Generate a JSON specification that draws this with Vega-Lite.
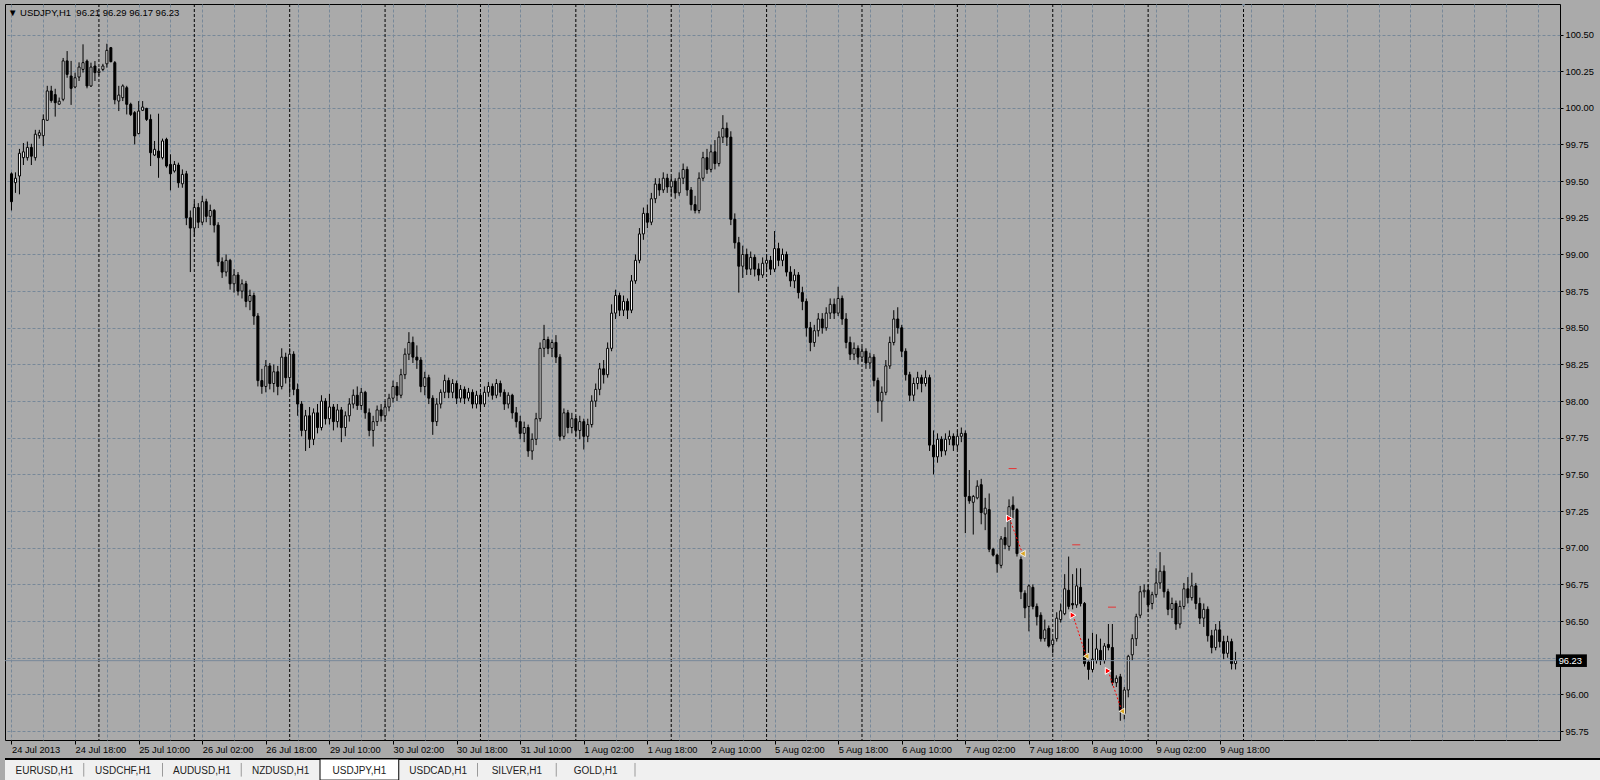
{
  "$schema": "https://vega.github.io/schema/vega-lite/v6.json",
  "background": "#aaaaaa",
  "padding": {"left": 4, "top": 3, "right": 0, "bottom": 0},
  "autosize": {"type": "pad"},
  "spacing": 19,
  "bounds": "flush",
  "config": {
    "font": "Liberation Sans",
    "view": {"stroke": null},
    "axis": {
      "labelFont": "Liberation Sans",
      "labelFontSize": 9.3,
      "labelColor": "#000000",
      "tickColor": "#000000",
      "tickWidth": 1,
      "domain": false,
      "grid": true,
      "gridColor": "#778899",
      "gridDash": [3, 2],
      "gridWidth": 1,
      "gridOpacity": 1,
      "title": null,
      "tickCount": 200,
      "labelOverlap": false
    }
  },
  "datasets": {
    "bars": [
      {"i": 0, "o": 99.55, "h": 99.56, "l": 99.30, "c": 99.36},
      {"i": 1, "o": 99.49, "h": 99.56, "l": 99.42, "c": 99.52},
      {"i": 2, "o": 99.535, "h": 99.72, "l": 99.41, "c": 99.69},
      {"i": 3, "o": 99.66, "h": 99.76, "l": 99.61, "c": 99.70},
      {"i": 4, "o": 99.66, "h": 99.77, "l": 99.64, "c": 99.73},
      {"i": 5, "o": 99.73, "h": 99.755, "l": 99.61, "c": 99.67},
      {"i": 6, "o": 99.66, "h": 99.85, "l": 99.64, "c": 99.82},
      {"i": 7, "o": 99.81, "h": 99.85, "l": 99.79, "c": 99.83},
      {"i": 8, "o": 99.81, "h": 99.955, "l": 99.74, "c": 99.92},
      {"i": 9, "o": 99.915, "h": 100.15, "l": 99.91, "c": 100.115},
      {"i": 10, "o": 100.115, "h": 100.15, "l": 100.035, "c": 100.05},
      {"i": 11, "o": 100.09, "h": 100.13, "l": 99.94, "c": 100.035},
      {"i": 12, "o": 100.025, "h": 100.07, "l": 100.02, "c": 100.045},
      {"i": 13, "o": 100.058, "h": 100.34, "l": 100.045, "c": 100.32},
      {"i": 14, "o": 100.32, "h": 100.387, "l": 100.205, "c": 100.228},
      {"i": 15, "o": 100.217, "h": 100.32, "l": 100.02, "c": 100.133},
      {"i": 16, "o": 100.142, "h": 100.24, "l": 100.133, "c": 100.205},
      {"i": 17, "o": 100.21, "h": 100.31, "l": 100.183, "c": 100.278},
      {"i": 18, "o": 100.262, "h": 100.433, "l": 100.24, "c": 100.308},
      {"i": 19, "o": 100.319, "h": 100.33, "l": 100.133, "c": 100.149},
      {"i": 20, "o": 100.149, "h": 100.308, "l": 100.142, "c": 100.278},
      {"i": 21, "o": 100.285, "h": 100.319, "l": 100.183, "c": 100.24},
      {"i": 22, "o": 100.24, "h": 100.27, "l": 100.22, "c": 100.25},
      {"i": 23, "o": 100.262, "h": 100.30, "l": 100.25, "c": 100.285},
      {"i": 24, "o": 100.30, "h": 100.437, "l": 100.274, "c": 100.392},
      {"i": 25, "o": 100.41, "h": 100.415, "l": 100.31, "c": 100.315},
      {"i": 26, "o": 100.308, "h": 100.319, "l": 100.024, "c": 100.055},
      {"i": 27, "o": 100.046, "h": 100.15, "l": 99.978, "c": 100.087},
      {"i": 28, "o": 100.069, "h": 100.16, "l": 100.046, "c": 100.149},
      {"i": 29, "o": 100.137, "h": 100.15, "l": 99.955, "c": 100.024},
      {"i": 30, "o": 100.024, "h": 100.035, "l": 99.944, "c": 99.955},
      {"i": 31, "o": 99.967, "h": 99.978, "l": 99.751, "c": 99.808},
      {"i": 32, "o": 99.824, "h": 100.046, "l": 99.82, "c": 99.978},
      {"i": 33, "o": 99.983, "h": 100.046, "l": 99.978, "c": 100.005},
      {"i": 34, "o": 99.996, "h": 100.0, "l": 99.91, "c": 99.921},
      {"i": 35, "o": 99.921, "h": 99.955, "l": 99.603, "c": 99.694},
      {"i": 36, "o": 99.678, "h": 99.774, "l": 99.671, "c": 99.717},
      {"i": 37, "o": 99.705, "h": 99.96, "l": 99.523, "c": 99.66},
      {"i": 38, "o": 99.66, "h": 99.79, "l": 99.648, "c": 99.774},
      {"i": 39, "o": 99.785, "h": 99.796, "l": 99.592, "c": 99.603},
      {"i": 40, "o": 99.614, "h": 99.683, "l": 99.437, "c": 99.55},
      {"i": 41, "o": 99.569, "h": 99.637, "l": 99.558, "c": 99.614},
      {"i": 42, "o": 99.61, "h": 99.626, "l": 99.455, "c": 99.489},
      {"i": 43, "o": 99.482, "h": 99.58, "l": 99.455, "c": 99.546},
      {"i": 44, "o": 99.55, "h": 99.57, "l": 99.20, "c": 99.25},
      {"i": 45, "o": 99.25, "h": 99.30, "l": 98.88, "c": 99.18},
      {"i": 46, "o": 99.18, "h": 99.36, "l": 99.12, "c": 99.32},
      {"i": 47, "o": 99.32, "h": 99.35, "l": 99.18, "c": 99.22},
      {"i": 48, "o": 99.22, "h": 99.40, "l": 99.20, "c": 99.36},
      {"i": 49, "o": 99.36, "h": 99.38, "l": 99.22, "c": 99.26},
      {"i": 50, "o": 99.26, "h": 99.34, "l": 99.20, "c": 99.30},
      {"i": 51, "o": 99.30, "h": 99.31, "l": 99.15, "c": 99.20},
      {"i": 52, "o": 99.20, "h": 99.22, "l": 98.92, "c": 98.95},
      {"i": 53, "o": 98.95, "h": 98.98, "l": 98.84, "c": 98.88},
      {"i": 54, "o": 98.88, "h": 99.00, "l": 98.85, "c": 98.96},
      {"i": 55, "o": 98.96, "h": 98.97, "l": 98.76, "c": 98.80},
      {"i": 56, "o": 98.80, "h": 98.90, "l": 98.74, "c": 98.86},
      {"i": 57, "o": 98.86, "h": 98.88, "l": 98.72, "c": 98.75},
      {"i": 58, "o": 98.75, "h": 98.83, "l": 98.70, "c": 98.80},
      {"i": 59, "o": 98.80, "h": 98.82, "l": 98.64, "c": 98.68},
      {"i": 60, "o": 98.68, "h": 98.76, "l": 98.62, "c": 98.72},
      {"i": 61, "o": 98.72, "h": 98.74, "l": 98.52, "c": 98.58},
      {"i": 62, "o": 98.58, "h": 98.60, "l": 98.10, "c": 98.14},
      {"i": 63, "o": 98.14, "h": 98.22, "l": 98.05, "c": 98.10},
      {"i": 64, "o": 98.10, "h": 98.28, "l": 98.06, "c": 98.24},
      {"i": 65, "o": 98.24, "h": 98.26, "l": 98.08, "c": 98.12},
      {"i": 66, "o": 98.12, "h": 98.25, "l": 98.06, "c": 98.20},
      {"i": 67, "o": 98.20, "h": 98.24, "l": 98.04, "c": 98.10},
      {"i": 68, "o": 98.10, "h": 98.36, "l": 98.08, "c": 98.30},
      {"i": 69, "o": 98.30, "h": 98.33, "l": 98.12, "c": 98.16},
      {"i": 70, "o": 98.16, "h": 98.36, "l": 98.05, "c": 98.32},
      {"i": 71, "o": 98.32, "h": 98.34, "l": 98.04, "c": 98.08},
      {"i": 72, "o": 98.08, "h": 98.12, "l": 97.90, "c": 97.98},
      {"i": 73, "o": 97.98, "h": 98.00, "l": 97.76, "c": 97.80},
      {"i": 74, "o": 97.80, "h": 97.94, "l": 97.66, "c": 97.90},
      {"i": 75, "o": 97.90, "h": 97.96, "l": 97.68, "c": 97.74},
      {"i": 76, "o": 97.74, "h": 97.95, "l": 97.70, "c": 97.92},
      {"i": 77, "o": 97.92, "h": 97.98, "l": 97.78, "c": 97.82},
      {"i": 78, "o": 97.82, "h": 98.04, "l": 97.80, "c": 98.00},
      {"i": 79, "o": 98.00, "h": 98.02, "l": 97.84, "c": 97.88},
      {"i": 80, "o": 97.88, "h": 98.05, "l": 97.84, "c": 97.96},
      {"i": 81, "o": 97.96, "h": 97.98, "l": 97.80, "c": 97.86},
      {"i": 82, "o": 97.86, "h": 97.98, "l": 97.82, "c": 97.94},
      {"i": 83, "o": 97.94, "h": 97.96, "l": 97.72, "c": 97.82},
      {"i": 84, "o": 97.82, "h": 97.93, "l": 97.76, "c": 97.90},
      {"i": 85, "o": 97.90, "h": 98.02, "l": 97.86, "c": 97.98},
      {"i": 86, "o": 97.98, "h": 98.08, "l": 97.95, "c": 98.04},
      {"i": 87, "o": 98.04, "h": 98.10, "l": 97.94, "c": 97.97},
      {"i": 88, "o": 97.97, "h": 98.09, "l": 97.94, "c": 98.06},
      {"i": 89, "o": 98.06, "h": 98.07, "l": 97.88, "c": 97.92},
      {"i": 90, "o": 97.92, "h": 97.95, "l": 97.76, "c": 97.80},
      {"i": 91, "o": 97.80, "h": 97.90, "l": 97.69, "c": 97.86},
      {"i": 92, "o": 97.86, "h": 97.97, "l": 97.83, "c": 97.94},
      {"i": 93, "o": 97.94, "h": 97.98, "l": 97.86, "c": 97.90},
      {"i": 94, "o": 97.90, "h": 98.00, "l": 97.87, "c": 97.96},
      {"i": 95, "o": 97.96, "h": 98.05, "l": 97.93, "c": 98.02},
      {"i": 96, "o": 98.02, "h": 98.14, "l": 97.99, "c": 98.10},
      {"i": 97, "o": 98.10, "h": 98.13, "l": 98.00, "c": 98.04},
      {"i": 98, "o": 98.04, "h": 98.22, "l": 98.02, "c": 98.18},
      {"i": 99, "o": 98.18, "h": 98.36, "l": 98.15, "c": 98.32},
      {"i": 100, "o": 98.32, "h": 98.47, "l": 98.28, "c": 98.40},
      {"i": 101, "o": 98.40, "h": 98.44, "l": 98.26, "c": 98.30},
      {"i": 102, "o": 98.30, "h": 98.38, "l": 98.22, "c": 98.28},
      {"i": 103, "o": 98.28, "h": 98.30, "l": 98.06, "c": 98.10},
      {"i": 104, "o": 98.10, "h": 98.20, "l": 98.04, "c": 98.16},
      {"i": 105, "o": 98.16, "h": 98.18, "l": 97.98, "c": 98.02},
      {"i": 106, "o": 98.02, "h": 98.04, "l": 97.77, "c": 97.86},
      {"i": 107, "o": 97.86, "h": 98.02, "l": 97.83, "c": 97.98},
      {"i": 108, "o": 97.98, "h": 98.08, "l": 97.95, "c": 98.06},
      {"i": 109, "o": 98.06, "h": 98.18, "l": 98.02, "c": 98.14},
      {"i": 110, "o": 98.14, "h": 98.16, "l": 98.02, "c": 98.06},
      {"i": 111, "o": 98.06, "h": 98.15, "l": 98.02, "c": 98.12},
      {"i": 112, "o": 98.12, "h": 98.14, "l": 97.98, "c": 98.02},
      {"i": 113, "o": 98.02, "h": 98.11, "l": 97.99, "c": 98.08},
      {"i": 114, "o": 98.08, "h": 98.10, "l": 97.98, "c": 98.02},
      {"i": 115, "o": 98.02, "h": 98.09, "l": 98.00, "c": 98.06},
      {"i": 116, "o": 98.06, "h": 98.08, "l": 97.95, "c": 97.98},
      {"i": 117, "o": 97.98, "h": 98.07, "l": 97.95, "c": 98.04},
      {"i": 118, "o": 98.04, "h": 98.06, "l": 97.94, "c": 97.98},
      {"i": 119, "o": 97.98, "h": 98.10, "l": 97.96, "c": 98.06},
      {"i": 120, "o": 98.06, "h": 98.13, "l": 98.03, "c": 98.10},
      {"i": 121, "o": 98.10, "h": 98.12, "l": 98.01, "c": 98.04},
      {"i": 122, "o": 98.04, "h": 98.15, "l": 98.02, "c": 98.12},
      {"i": 123, "o": 98.12, "h": 98.14, "l": 98.03, "c": 98.06},
      {"i": 124, "o": 98.06, "h": 98.08, "l": 97.94, "c": 97.98},
      {"i": 125, "o": 97.98, "h": 98.06, "l": 97.95, "c": 98.04},
      {"i": 126, "o": 98.04, "h": 98.05, "l": 97.88, "c": 97.92},
      {"i": 127, "o": 97.92, "h": 97.96, "l": 97.82, "c": 97.86},
      {"i": 128, "o": 97.86, "h": 97.90, "l": 97.74, "c": 97.78},
      {"i": 129, "o": 97.78, "h": 97.86, "l": 97.72, "c": 97.82},
      {"i": 130, "o": 97.82, "h": 97.84, "l": 97.62, "c": 97.66},
      {"i": 131, "o": 97.66, "h": 97.78, "l": 97.60, "c": 97.74},
      {"i": 132, "o": 97.74, "h": 97.92, "l": 97.70, "c": 97.88},
      {"i": 133, "o": 97.88, "h": 98.40, "l": 97.86, "c": 98.36},
      {"i": 134, "o": 98.36, "h": 98.52, "l": 98.30, "c": 98.42},
      {"i": 135, "o": 98.42, "h": 98.44, "l": 98.32, "c": 98.36},
      {"i": 136, "o": 98.36, "h": 98.42, "l": 98.30, "c": 98.40},
      {"i": 137, "o": 98.40, "h": 98.45, "l": 98.26, "c": 98.30},
      {"i": 138, "o": 98.30, "h": 98.32, "l": 97.73, "c": 97.76},
      {"i": 139, "o": 97.76, "h": 97.95, "l": 97.74, "c": 97.92},
      {"i": 140, "o": 97.92, "h": 97.94, "l": 97.78, "c": 97.82},
      {"i": 141, "o": 97.82, "h": 97.92, "l": 97.78, "c": 97.88},
      {"i": 142, "o": 97.88, "h": 97.90, "l": 97.76, "c": 97.80},
      {"i": 143, "o": 97.80, "h": 97.90, "l": 97.74, "c": 97.86},
      {"i": 144, "o": 97.86, "h": 97.88, "l": 97.67, "c": 97.76},
      {"i": 145, "o": 97.76, "h": 97.88, "l": 97.72, "c": 97.84},
      {"i": 146, "o": 97.84, "h": 98.04, "l": 97.82, "c": 98.00},
      {"i": 147, "o": 98.00, "h": 98.12, "l": 97.96, "c": 98.08},
      {"i": 148, "o": 98.08, "h": 98.26, "l": 98.04, "c": 98.22},
      {"i": 149, "o": 98.22, "h": 98.28, "l": 98.12, "c": 98.18},
      {"i": 150, "o": 98.18, "h": 98.40, "l": 98.16, "c": 98.36},
      {"i": 151, "o": 98.36, "h": 98.66, "l": 98.34, "c": 98.60},
      {"i": 152, "o": 98.60, "h": 98.76, "l": 98.56, "c": 98.72},
      {"i": 153, "o": 98.72, "h": 98.74, "l": 98.58, "c": 98.62},
      {"i": 154, "o": 98.62, "h": 98.72, "l": 98.58, "c": 98.68},
      {"i": 155, "o": 98.68, "h": 98.70, "l": 98.56, "c": 98.62},
      {"i": 156, "o": 98.62, "h": 98.86, "l": 98.60, "c": 98.82},
      {"i": 157, "o": 98.82, "h": 99.00, "l": 98.80, "c": 98.96},
      {"i": 158, "o": 98.96, "h": 99.18, "l": 98.94, "c": 99.14},
      {"i": 159, "o": 99.14, "h": 99.32, "l": 99.10, "c": 99.28},
      {"i": 160, "o": 99.28, "h": 99.34, "l": 99.18, "c": 99.22},
      {"i": 161, "o": 99.22, "h": 99.42, "l": 99.20, "c": 99.38},
      {"i": 162, "o": 99.38, "h": 99.52, "l": 99.35, "c": 99.48},
      {"i": 163, "o": 99.48, "h": 99.52, "l": 99.40, "c": 99.44},
      {"i": 164, "o": 99.44, "h": 99.56, "l": 99.42, "c": 99.52},
      {"i": 165, "o": 99.52, "h": 99.55, "l": 99.42, "c": 99.46},
      {"i": 166, "o": 99.46, "h": 99.53, "l": 99.40, "c": 99.50},
      {"i": 167, "o": 99.50, "h": 99.52, "l": 99.38, "c": 99.42},
      {"i": 168, "o": 99.42, "h": 99.56, "l": 99.40, "c": 99.52},
      {"i": 169, "o": 99.52, "h": 99.62, "l": 99.48, "c": 99.58},
      {"i": 170, "o": 99.58, "h": 99.60, "l": 99.40, "c": 99.44},
      {"i": 171, "o": 99.44, "h": 99.46, "l": 99.30, "c": 99.34},
      {"i": 172, "o": 99.34, "h": 99.40, "l": 99.28, "c": 99.30},
      {"i": 173, "o": 99.30, "h": 99.56, "l": 99.28, "c": 99.52},
      {"i": 174, "o": 99.52, "h": 99.70, "l": 99.50, "c": 99.66},
      {"i": 175, "o": 99.66, "h": 99.72, "l": 99.55, "c": 99.58},
      {"i": 176, "o": 99.58, "h": 99.75, "l": 99.56, "c": 99.70},
      {"i": 177, "o": 99.70, "h": 99.78, "l": 99.58, "c": 99.62},
      {"i": 178, "o": 99.62, "h": 99.84, "l": 99.60, "c": 99.80},
      {"i": 179, "o": 99.80, "h": 99.95, "l": 99.76, "c": 99.86},
      {"i": 180, "o": 99.86, "h": 99.90, "l": 99.74, "c": 99.80},
      {"i": 181, "o": 99.80, "h": 99.84, "l": 99.20, "c": 99.24},
      {"i": 182, "o": 99.24, "h": 99.28, "l": 99.04, "c": 99.08},
      {"i": 183, "o": 99.08, "h": 99.12, "l": 98.74, "c": 98.92},
      {"i": 184, "o": 98.92, "h": 99.06, "l": 98.84, "c": 99.00},
      {"i": 185, "o": 99.00, "h": 99.04, "l": 98.86, "c": 98.90},
      {"i": 186, "o": 98.90, "h": 99.02, "l": 98.86, "c": 98.98},
      {"i": 187, "o": 98.98, "h": 99.00, "l": 98.85, "c": 98.90},
      {"i": 188, "o": 98.90, "h": 98.94, "l": 98.82, "c": 98.86},
      {"i": 189, "o": 98.86, "h": 98.98, "l": 98.84, "c": 98.94},
      {"i": 190, "o": 98.94, "h": 99.00, "l": 98.88, "c": 98.96},
      {"i": 191, "o": 98.96, "h": 98.99, "l": 98.86, "c": 98.90},
      {"i": 192, "o": 98.90, "h": 99.16, "l": 98.88, "c": 99.04},
      {"i": 193, "o": 99.04, "h": 99.08, "l": 98.92, "c": 98.96},
      {"i": 194, "o": 98.96, "h": 99.04, "l": 98.92, "c": 99.00},
      {"i": 195, "o": 99.00, "h": 99.02, "l": 98.85, "c": 98.88},
      {"i": 196, "o": 98.88, "h": 98.92, "l": 98.78, "c": 98.82},
      {"i": 197, "o": 98.82, "h": 98.90, "l": 98.77, "c": 98.86},
      {"i": 198, "o": 98.86, "h": 98.88, "l": 98.70, "c": 98.74},
      {"i": 199, "o": 98.74, "h": 98.78, "l": 98.62, "c": 98.68},
      {"i": 200, "o": 98.68, "h": 98.70, "l": 98.44, "c": 98.50},
      {"i": 201, "o": 98.50, "h": 98.54, "l": 98.34, "c": 98.40},
      {"i": 202, "o": 98.40, "h": 98.52, "l": 98.37, "c": 98.48},
      {"i": 203, "o": 98.48, "h": 98.60, "l": 98.44, "c": 98.56},
      {"i": 204, "o": 98.56, "h": 98.60, "l": 98.46, "c": 98.50},
      {"i": 205, "o": 98.50, "h": 98.64, "l": 98.48, "c": 98.60},
      {"i": 206, "o": 98.60, "h": 98.70, "l": 98.56, "c": 98.66},
      {"i": 207, "o": 98.66, "h": 98.70, "l": 98.56, "c": 98.60},
      {"i": 208, "o": 98.60, "h": 98.78, "l": 98.58, "c": 98.70},
      {"i": 209, "o": 98.70, "h": 98.72, "l": 98.52, "c": 98.56},
      {"i": 210, "o": 98.56, "h": 98.60, "l": 98.36, "c": 98.40},
      {"i": 211, "o": 98.40, "h": 98.44, "l": 98.28, "c": 98.32},
      {"i": 212, "o": 98.32, "h": 98.40, "l": 98.28, "c": 98.36},
      {"i": 213, "o": 98.36, "h": 98.38, "l": 98.25, "c": 98.30},
      {"i": 214, "o": 98.30, "h": 98.37, "l": 98.27, "c": 98.34},
      {"i": 215, "o": 98.34, "h": 98.36, "l": 98.22, "c": 98.26},
      {"i": 216, "o": 98.26, "h": 98.33, "l": 98.22, "c": 98.30},
      {"i": 217, "o": 98.30, "h": 98.32, "l": 98.10, "c": 98.14},
      {"i": 218, "o": 98.14, "h": 98.16, "l": 97.92, "c": 98.00},
      {"i": 219, "o": 98.00, "h": 98.10, "l": 97.86, "c": 98.06},
      {"i": 220, "o": 98.06, "h": 98.28, "l": 98.04, "c": 98.24},
      {"i": 221, "o": 98.24, "h": 98.44, "l": 98.22, "c": 98.40},
      {"i": 222, "o": 98.40, "h": 98.62, "l": 98.38, "c": 98.56},
      {"i": 223, "o": 98.56, "h": 98.64, "l": 98.46, "c": 98.50},
      {"i": 224, "o": 98.50, "h": 98.52, "l": 98.30, "c": 98.34},
      {"i": 225, "o": 98.34, "h": 98.36, "l": 98.14, "c": 98.18},
      {"i": 226, "o": 98.18, "h": 98.20, "l": 98.00, "c": 98.04},
      {"i": 227, "o": 98.04, "h": 98.16, "l": 98.00, "c": 98.12},
      {"i": 228, "o": 98.12, "h": 98.20, "l": 98.08, "c": 98.16},
      {"i": 229, "o": 98.16, "h": 98.18, "l": 98.06, "c": 98.12},
      {"i": 230, "o": 98.12, "h": 98.21, "l": 98.10, "c": 98.16},
      {"i": 231, "o": 98.16, "h": 98.18, "l": 97.66, "c": 97.70},
      {"i": 232, "o": 97.70, "h": 97.80, "l": 97.50, "c": 97.62},
      {"i": 233, "o": 97.62, "h": 97.78, "l": 97.58, "c": 97.74},
      {"i": 234, "o": 97.74, "h": 97.76, "l": 97.62, "c": 97.66},
      {"i": 235, "o": 97.66, "h": 97.78, "l": 97.63, "c": 97.74},
      {"i": 236, "o": 97.74, "h": 97.80, "l": 97.70, "c": 97.76},
      {"i": 237, "o": 97.76, "h": 97.78, "l": 97.66, "c": 97.70},
      {"i": 238, "o": 97.70, "h": 97.80, "l": 97.67, "c": 97.76},
      {"i": 239, "o": 97.76, "h": 97.82, "l": 97.72, "c": 97.78},
      {"i": 240, "o": 97.78, "h": 97.80, "l": 97.10, "c": 97.35},
      {"i": 241, "o": 97.35, "h": 97.53, "l": 97.30, "c": 97.32},
      {"i": 242, "o": 97.31, "h": 97.36, "l": 97.09, "c": 97.35},
      {"i": 243, "o": 97.34, "h": 97.46, "l": 97.33, "c": 97.42},
      {"i": 244, "o": 97.43, "h": 97.47, "l": 97.16, "c": 97.24},
      {"i": 245, "o": 97.23, "h": 97.34, "l": 97.12, "c": 97.27},
      {"i": 246, "o": 97.26, "h": 97.37, "l": 96.97, "c": 96.99},
      {"i": 247, "o": 96.99, "h": 97.00, "l": 96.94, "c": 96.95},
      {"i": 248, "o": 96.95, "h": 96.96, "l": 96.83, "c": 96.89},
      {"i": 249, "o": 96.88, "h": 97.08, "l": 96.86, "c": 97.06},
      {"i": 250, "o": 97.07, "h": 97.14, "l": 96.99, "c": 97.02},
      {"i": 251, "o": 97.01, "h": 97.33, "l": 96.98, "c": 97.28},
      {"i": 252, "o": 97.29, "h": 97.35, "l": 97.20, "c": 97.26},
      {"i": 253, "o": 97.26, "h": 97.27, "l": 96.94, "c": 96.96},
      {"i": 254, "o": 96.92, "h": 96.94, "l": 96.65, "c": 96.70},
      {"i": 255, "o": 96.69, "h": 96.71, "l": 96.52, "c": 96.59},
      {"i": 256, "o": 96.60, "h": 96.75, "l": 96.43, "c": 96.74},
      {"i": 257, "o": 96.73, "h": 96.75, "l": 96.58, "c": 96.60},
      {"i": 258, "o": 96.60, "h": 96.62, "l": 96.47, "c": 96.53},
      {"i": 259, "o": 96.54, "h": 96.56, "l": 96.36, "c": 96.38},
      {"i": 260, "o": 96.38, "h": 96.51, "l": 96.36, "c": 96.44},
      {"i": 261, "o": 96.45, "h": 96.47, "l": 96.32, "c": 96.33},
      {"i": 262, "o": 96.34, "h": 96.39, "l": 96.28, "c": 96.37},
      {"i": 263, "o": 96.38, "h": 96.56, "l": 96.36, "c": 96.52},
      {"i": 264, "o": 96.51, "h": 96.62, "l": 96.49, "c": 96.57},
      {"i": 265, "o": 96.55, "h": 96.82, "l": 96.54, "c": 96.72},
      {"i": 266, "o": 96.71, "h": 96.94, "l": 96.58, "c": 96.60},
      {"i": 267, "o": 96.62, "h": 96.82, "l": 96.58, "c": 96.61},
      {"i": 268, "o": 96.61, "h": 96.86, "l": 96.59, "c": 96.74},
      {"i": 269, "o": 96.73, "h": 96.86, "l": 96.60, "c": 96.62},
      {"i": 270, "o": 96.62, "h": 96.63, "l": 96.19, "c": 96.21},
      {"i": 271, "o": 96.22, "h": 96.38, "l": 96.10, "c": 96.17},
      {"i": 272, "o": 96.17, "h": 96.42, "l": 96.15, "c": 96.24},
      {"i": 273, "o": 96.23, "h": 96.41, "l": 96.21, "c": 96.31},
      {"i": 274, "o": 96.30, "h": 96.38, "l": 96.20, "c": 96.23},
      {"i": 275, "o": 96.23, "h": 96.35, "l": 96.21, "c": 96.33},
      {"i": 276, "o": 96.34, "h": 96.48, "l": 96.30, "c": 96.32},
      {"i": 277, "o": 96.32, "h": 96.48, "l": 96.06, "c": 96.08},
      {"i": 278, "o": 96.08, "h": 96.13, "l": 96.05, "c": 96.11},
      {"i": 279, "o": 96.12, "h": 96.14, "l": 95.82, "c": 95.89},
      {"i": 280, "o": 95.87, "h": 96.05, "l": 95.83, "c": 96.03},
      {"i": 281, "o": 96.03, "h": 96.27, "l": 95.98, "c": 96.26},
      {"i": 282, "o": 96.27, "h": 96.41, "l": 96.23, "c": 96.38},
      {"i": 283, "o": 96.38, "h": 96.55, "l": 96.33, "c": 96.53},
      {"i": 284, "o": 96.54, "h": 96.74, "l": 96.52, "c": 96.70},
      {"i": 285, "o": 96.70, "h": 96.75, "l": 96.66, "c": 96.71},
      {"i": 286, "o": 96.71, "h": 96.75, "l": 96.56, "c": 96.61},
      {"i": 287, "o": 96.62, "h": 96.70, "l": 96.58, "c": 96.68},
      {"i": 288, "o": 96.68, "h": 96.86, "l": 96.66, "c": 96.76},
      {"i": 289, "o": 96.76, "h": 96.97, "l": 96.72, "c": 96.84},
      {"i": 290, "o": 96.84, "h": 96.88, "l": 96.66, "c": 96.70},
      {"i": 291, "o": 96.70, "h": 96.72, "l": 96.54, "c": 96.58},
      {"i": 292, "o": 96.58, "h": 96.66, "l": 96.52, "c": 96.62},
      {"i": 293, "o": 96.62, "h": 96.64, "l": 96.44, "c": 96.48},
      {"i": 294, "o": 96.48, "h": 96.64, "l": 96.45, "c": 96.60},
      {"i": 295, "o": 96.60, "h": 96.76, "l": 96.58, "c": 96.72},
      {"i": 296, "o": 96.72, "h": 96.80, "l": 96.62, "c": 96.66},
      {"i": 297, "o": 96.66, "h": 96.83, "l": 96.64, "c": 96.74},
      {"i": 298, "o": 96.74, "h": 96.76, "l": 96.58, "c": 96.62},
      {"i": 299, "o": 96.62, "h": 96.66, "l": 96.48, "c": 96.52},
      {"i": 300, "o": 96.52, "h": 96.62, "l": 96.46, "c": 96.58},
      {"i": 301, "o": 96.58, "h": 96.60, "l": 96.36, "c": 96.40},
      {"i": 302, "o": 96.40, "h": 96.44, "l": 96.28, "c": 96.32},
      {"i": 303, "o": 96.32, "h": 96.48, "l": 96.30, "c": 96.44},
      {"i": 304, "o": 96.44, "h": 96.50, "l": 96.32, "c": 96.36},
      {"i": 305, "o": 96.36, "h": 96.40, "l": 96.24, "c": 96.28},
      {"i": 306, "o": 96.28, "h": 96.40, "l": 96.25, "c": 96.36},
      {"i": 307, "o": 96.36, "h": 96.38, "l": 96.17, "c": 96.21},
      {"i": 308, "o": 96.21, "h": 96.29, "l": 96.17, "c": 96.23}
    ],
    "seps": [
      {"i": 22}, {"i": 46}, {"i": 70}, {"i": 94}, {"i": 118}, {"i": 142}, {"i": 166},
      {"i": 190}, {"i": 214}, {"i": 238}, {"i": 262}, {"i": 286}, {"i": 310}
    ],
    "shift": [{"i": 310}],
    "trades": [
      {"id": 1, "i": 251.1, "p": 97.20, "t": "open"},
      {"id": 1, "i": 254.4, "p": 96.96, "t": "close"},
      {"id": 2, "i": 267.1, "p": 96.54, "t": "open"},
      {"id": 2, "i": 270.4, "p": 96.26, "t": "close"},
      {"id": 3, "i": 275.95, "p": 96.16, "t": "open"},
      {"id": 3, "i": 279.4, "p": 95.885, "t": "close"}
    ],
    "levels": [
      {"i": 251.9, "p": 97.54},
      {"i": 267.9, "p": 97.02},
      {"i": 276.9, "p": 96.595}
    ],
    "header": [
      {"text": "▼\u00a0USDJPY,H1\u00a0\u00a096.21 96.29 96.17 96.23"}
    ],
    "tabs": [
      {"name": "EURUSD,H1", "active": false},
      {"name": "USDCHF,H1", "active": false},
      {"name": "AUDUSD,H1", "active": false},
      {"name": "NZDUSD,H1", "active": false},
      {"name": "USDJPY,H1", "active": true},
      {"name": "USDCAD,H1", "active": false},
      {"name": "SILVER,H1", "active": false},
      {"name": "GOLD,H1", "active": false}
    ]
  },
  "vconcat": [
    {
      "width": 1555,
      "height": 736,
      "view": {"stroke": "#000000", "strokeWidth": 1},
      "layer": [
        {
          "data": {"name": "seps"},
          "mark": {"type": "rule", "color": "#000000", "strokeDash": [3, 2], "strokeWidth": 1},
          "encoding": {
            "x": {
              "field": "i",
              "type": "quantitative",
              "scale": {"domain": [-0.375, 388.375], "nice": false, "zero": false},
              "axis": {
                "orient": "bottom",
                "values": [0, 8, 16, 24, 32, 40, 48, 56, 64, 72, 80, 88, 96, 104, 112, 120, 128, 136, 144, 152, 160, 168, 176, 184, 192, 200, 208, 216, 224, 232, 240, 248, 256, 264, 272, 280, 288, 296, 304, 312, 320, 328, 336, 344, 352, 360, 368, 376, 384],
                "tickSize": 4,
                "tickCount": 200,
                "labelAlign": "left",
                "labelPadding": 1.5,
                "labelOverlap": false,
                "labelFlush": false,
                "labelExpr": "['24 Jul 2013','24 Jul 18:00','25 Jul 10:00','26 Jul 02:00','26 Jul 18:00','29 Jul 10:00','30 Jul 02:00','30 Jul 18:00','31 Jul 10:00','1 Aug 02:00','1 Aug 18:00','2 Aug 10:00','5 Aug 02:00','5 Aug 18:00','6 Aug 10:00','7 Aug 02:00','7 Aug 18:00','8 Aug 10:00','9 Aug 02:00','9 Aug 18:00'][datum.value / 16] || ''",
                "tickOpacity": {"condition": {"test": "datum.value % 16 == 0 && datum.value <= 304", "value": 1}, "value": 0}
              }
            }
          }
        },
        {
          "data": {"name": "bars"},
          "mark": {"type": "rule", "color": "#000000", "strokeWidth": 1},
          "encoding": {
            "x": {"field": "i", "type": "quantitative"},
            "y": {
              "field": "l",
              "type": "quantitative",
              "scale": {"domain": [95.689, 100.708], "nice": false, "zero": false},
              "axis": {
                "orient": "right",
                "values": [95.75, 96.0, 96.25, 96.5, 96.75, 97.0, 97.25, 97.5, 97.75, 98.0, 98.25, 98.5, 98.75, 99.0, 99.25, 99.5, 99.75, 100.0, 100.25, 100.5],
                "tickCount": 200,
                "labelExpr": "datum.value == 96.25 ? '' : format(datum.value, '.2f')",
                "tickSize": 3,
                "labelPadding": 2,
                "labelAlign": "left",
                "labelOverlap": false
              }
            },
            "y2": {"field": "h"}
          }
        },
        {
          "data": {"name": "bars"},
          "mark": {"type": "bar", "width": 2, "stroke": "#000000", "strokeWidth": 1},
          "encoding": {
            "x": {"field": "i", "type": "quantitative"},
            "y": {"field": "o", "type": "quantitative"},
            "y2": {"field": "c"},
            "fill": {"condition": {"test": "datum.c >= datum.o", "value": "#ffffff"}, "value": "#000000"}
          }
        },
        {
          "data": {"name": "bars"},
          "transform": [
            {"joinaggregate": [{"op": "max", "field": "i", "as": "maxi"}]},
            {"filter": "datum.i == datum.maxi"}
          ],
          "mark": {"type": "rule", "color": "#778899", "strokeWidth": 1},
          "encoding": {"y": {"field": "c", "type": "quantitative"}}
        },
        {
          "data": {"name": "trades"},
          "mark": {"type": "line", "color": "#ff0000", "strokeWidth": 1, "strokeDash": [2, 2]},
          "encoding": {
            "x": {"field": "i", "type": "quantitative"},
            "y": {"field": "p", "type": "quantitative"},
            "detail": {"field": "id"}
          }
        },
        {
          "data": {"name": "levels"},
          "mark": {"type": "tick", "orient": "horizontal", "color": "#ff0000", "size": 8, "thickness": 1},
          "encoding": {
            "x": {"field": "i", "type": "quantitative"},
            "y": {"field": "p", "type": "quantitative"}
          }
        },
        {
          "data": {"name": "trades"},
          "transform": [{"filter": "datum.t == 'open'"}],
          "mark": {"type": "point", "shape": "triangle-right", "size": 45, "filled": true, "fill": "#ff0000", "stroke": "#ffffff", "strokeWidth": 1, "opacity": 1},
          "encoding": {
            "x": {"field": "i", "type": "quantitative"},
            "y": {"field": "p", "type": "quantitative"}
          }
        },
        {
          "data": {"name": "trades"},
          "transform": [{"filter": "datum.t == 'close'"}],
          "mark": {"type": "point", "shape": "triangle-left", "size": 40, "filled": true, "fill": "#daa520", "stroke": "#ffffff", "strokeWidth": 0.8, "opacity": 1},
          "encoding": {
            "x": {"field": "i", "type": "quantitative"},
            "y": {"field": "p", "type": "quantitative"}
          }
        },
        {
          "data": {"name": "shift"},
          "mark": {"type": "point", "shape": "triangle-down", "size": 45, "filled": true, "fill": "#778899", "opacity": 1, "dy": 2, "clip": true},
          "encoding": {
            "x": {"field": "i", "type": "quantitative"},
            "y": {"datum": 100.708, "type": "quantitative"}
          }
        },
        {
          "data": {"name": "bars"},
          "transform": [
            {"joinaggregate": [{"op": "max", "field": "i", "as": "maxi"}]},
            {"filter": "datum.i == datum.maxi"},
            {"calculate": "datum.c + 0.043", "as": "top"},
            {"calculate": "datum.c - 0.043", "as": "bottom"}
          ],
          "mark": {"type": "rect", "fill": "#000000", "clip": false},
          "encoding": {
            "x": {"datum": 388.6, "type": "quantitative"},
            "x2": {"datum": 396.4},
            "y": {"field": "top", "type": "quantitative"},
            "y2": {"field": "bottom"}
          }
        },
        {
          "data": {"name": "bars"},
          "transform": [
            {"joinaggregate": [{"op": "max", "field": "i", "as": "maxi"}]},
            {"filter": "datum.i == datum.maxi"}
          ],
          "mark": {"type": "text", "color": "#ffffff", "align": "left", "baseline": "middle", "fontSize": 9.3, "clip": false},
          "encoding": {
            "x": {"datum": 389.3, "type": "quantitative"},
            "y": {"field": "c", "type": "quantitative"},
            "text": {"field": "c", "type": "quantitative", "format": ".2f"}
          }
        },
        {
          "data": {"name": "header"},
          "mark": {"type": "text", "color": "#000000", "align": "left", "baseline": "alphabetic", "fontSize": 9.5, "dx": -2, "dy": 12.3, "font": "Liberation Sans"},
          "encoding": {
            "x": {"datum": -0.375, "type": "quantitative"},
            "y": {"datum": 100.708, "type": "quantitative"},
            "text": {"field": "text"}
          }
        }
      ]
    },
    {
      "width": 1596,
      "height": 22,
      "view": {"fill": "#f0f0f0", "stroke": null},
      "data": {"name": "tabs"},
      "layer": [
        {
          "mark": {"type": "rule", "color": "#000000", "strokeWidth": 1.5},
          "encoding": {
            "y": {"datum": 1, "type": "quantitative", "scale": {"domain": [0, 1], "nice": false, "zero": false}, "axis": null}
          }
        },
        {
          "transform": [{"filter": "datum.active"}],
          "mark": {"type": "bar", "fill": "#ffffff", "stroke": "#000000", "strokeWidth": 1},
          "encoding": {
            "x": {
              "field": "name",
              "type": "nominal",
              "sort": null,
              "scale": {
                "domain": ["EURUSD,H1", "USDCHF,H1", "AUDUSD,H1", "NZDUSD,H1", "USDJPY,H1", "USDCAD,H1", "SILVER,H1", "GOLD,H1"],
                "range": [0, 630],
                "paddingInner": 0,
                "paddingOuter": 0
              },
              "axis": null
            },
            "y": {"datum": 0.04, "type": "quantitative"},
            "y2": {"datum": 1}
          }
        },
        {
          "transform": [{"filter": "datum.name != 'NZDUSD,H1' && !datum.active"}],
          "mark": {"type": "rule", "color": "#9a9a9a", "strokeWidth": 1},
          "encoding": {
            "x": {"field": "name", "type": "nominal", "bandPosition": 1},
            "y": {"datum": 0.2, "type": "quantitative"},
            "y2": {"datum": 0.82}
          }
        },
        {
          "mark": {"type": "text", "fontSize": 10, "color": "#222222", "align": "center", "baseline": "middle", "font": "Liberation Sans"},
          "encoding": {
            "x": {"field": "name", "type": "nominal"},
            "y": {"datum": 0.45, "type": "quantitative"},
            "text": {"field": "name"}
          }
        }
      ]
    }
  ]
}
